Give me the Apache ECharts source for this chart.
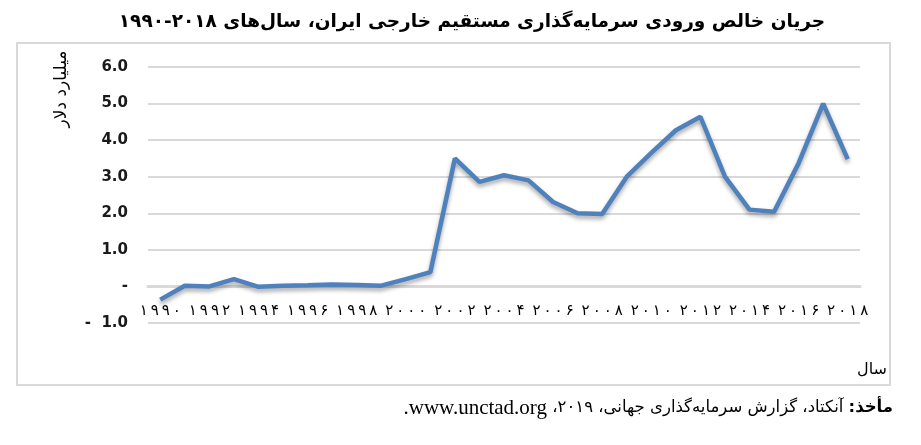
<!DOCTYPE html>
<html>
<head>
<meta charset="utf-8">
<script src="https://cdn.jsdelivr.net/npm/echarts@6/dist/echarts.min.js"></script>
<style>
  html, body { margin: 0; padding: 0; background: #fff; }
  #main { width: 921px; height: 445px; }
</style>
</head>
<body>
<div id="main"></div>
<script>
// سال‌ها و جریان ورودی (میلیارد دلار)
var years = ['1990', '1991', '1992', '1993', '1994', '1995', '1996', '1997', '1998', '1999',
  '2000', '2001', '2002', '2003', '2004', '2005', '2006', '2007', '2008', '2009',
  '2010', '2011', '2012', '2013', '2014', '2015', '2016', '2017', '2018'];
var fdiValues = [-0.36, 0.02, 0.0, 0.2, -0.01, 0.02, 0.03, 0.05, 0.04, 0.02,
  0.2, 0.39, 3.5, 2.86, 3.04, 2.9, 2.31, 2.0, 1.98, 3.0,
  3.65, 4.27, 4.64, 3.0, 2.1, 2.04, 3.37, 5.0, 3.48];
var yTicks = [-1, 0, 1, 2, 3, 4, 5, 6];

var faDigits = ['۰', '۱', '۲', '۳', '۴', '۵', '۶', '۷', '۸', '۹'];
function toFa(s) {
  return s.split('').map(function (c) { return faDigits[+c]; }).join('\u2009');
}

var arFont = '"DejaVu Sans", sans-serif';
var gridTop = 67, gridBottom = 122;
var plotH = 445 - gridTop - gridBottom;
// محور افقی روی صفر
var zeroOffset = -plotH * (0 - yTicks[0]) / (yTicks[yTicks.length - 1] - yTicks[0]);

var myChart = echarts.init(document.getElementById('main'));
myChart.setOption({
  backgroundColor: '#fff',
  animation: false,
  grid: { left: 148, right: 61, top: gridTop, bottom: gridBottom },
  xAxis: {
    type: 'category',
    data: years,
    boundaryGap: true,
    offset: zeroOffset,
    axisLine: { onZero: false, lineStyle: { color: '#d9d9d9', width: 3 } },
    axisTick: { show: false },
    axisLabel: {
      interval: 1,
      margin: 17,
      fontFamily: arFont,
      fontSize: 15,
      color: '#000',
      formatter: function (v) { return toFa(v); }
    }
  },
  yAxis: {
    type: 'value',
    min: yTicks[0],
    max: yTicks[yTicks.length - 1],
    interval: 1,
    axisLine: { show: false },
    axisTick: { show: false },
    splitLine: { lineStyle: { color: '#d9d9d9', width: 2 } },
    axisLabel: {
      margin: 20,
      fontFamily: '"DejaVu Sans", sans-serif',
      fontWeight: 'bold',
      fontSize: 15,
      color: '#1a1a1a',
      formatter: function (v) {
        if (v === 0) return '-';
        if (v < 0) return '-  ' + Math.abs(v).toFixed(1);
        return v.toFixed(1);
      }
    }
  },
  series: [{
    type: 'line',
    data: fdiValues,
    symbol: 'none',
    lineStyle: {
      color: '#4f81bd',
      width: 4.5,
      shadowColor: 'rgba(0,0,0,0.35)',
      shadowBlur: 4,
      shadowOffsetY: 3
    },
    itemStyle: { color: '#4f81bd' }
  }],
  graphic: [
    {
      type: 'text',
      x: 472, y: 22,
      style: {
        text: 'جریان خالص ورودی سرمایه‌گذاری مستقیم خارجی ایران، سال‌های ۲۰۱۸-۱۹۹۰',
        font: 'bold 18.5px "DejaVu Sans", sans-serif',
        fill: '#000',
        align: 'center',
        verticalAlign: 'middle'
      }
    },
    {
      type: 'rect',
      shape: { x: 17, y: 43, width: 873, height: 342 },
      style: { fill: 'none', stroke: '#d9d9d9', lineWidth: 2 },
      z: 0
    },
    {
      type: 'text',
      x: 62, y: 89,
      rotation: Math.PI / 2,
      style: {
        text: 'میلیارد دلار',
        font: '17px "DejaVu Sans", sans-serif',
        fill: '#000',
        align: 'center',
        verticalAlign: 'middle'
      }
    },
    {
      type: 'text',
      x: 887, y: 370,
      style: {
        text: 'سال',
        font: '16px "DejaVu Sans", sans-serif',
        fill: '#000',
        align: 'right',
        verticalAlign: 'middle'
      }
    },
    {
      type: 'text',
      x: 893, y: 408,
      style: {
        text: '{p|.}{u|www.unctad.org }{a|\u200F آنکتاد، گزارش سرمایه‌گذاری جهانی، ۲۰۱۹،\u200F}{b|\u200Fمأخذ:\u200F}',
        align: 'right',
        verticalAlign: 'middle',
        rich: {
          p: { font: '21px "Liberation Serif", serif', fill: '#000' },
          u: { font: '21px "Liberation Serif", serif', fill: '#000' },
          a: { font: '16.5px "DejaVu Sans", sans-serif', fill: '#000' },
          b: { font: 'bold 16.5px "DejaVu Sans", sans-serif', fill: '#000' }
        }
      }
    }
  ]
});
</script>
</body>
</html>
